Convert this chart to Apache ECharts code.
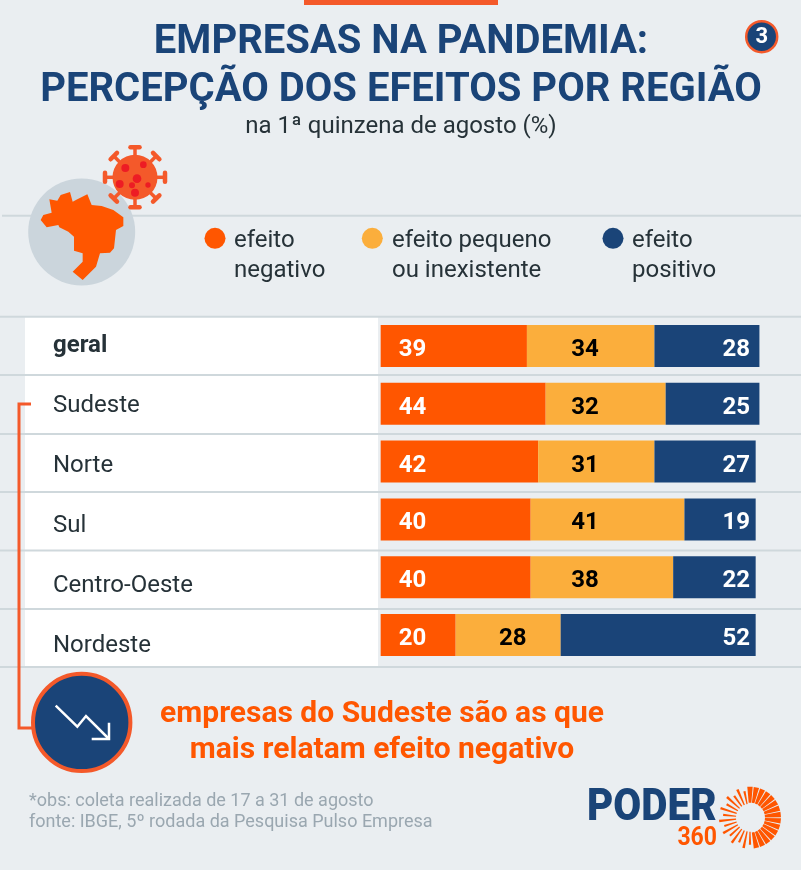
<!DOCTYPE html>
<html><head><meta charset="utf-8">
<style>html,body{margin:0;padding:0;background:#EAEEF1}#c{width:801px;height:870px}</style>
<script src="https://cdn.jsdelivr.net/npm/echarts@6/dist/echarts.min.js"></script>
</head><body><div id="c"></div>
<script>
const regions = ['geral','Sudeste','Norte','Sul','Centro-Oeste','Nordeste'];
const negativo = [39,44,42,40,40,20];
const pequeno = [34,32,31,41,38,28];
const positivo = [28,25,27,19,22,52];
const pequenoCentre = [54.5,54.5,54.5,54.5,54.5,35.2];
const positivoEnd = [98.5,98.5,98.5,98.5,98.5,98.5];

const BLUE='#1A4478', ORANGE='#FF5600', AMBER='#FBAE3C', RED2='#F4592A', DARK='#263238', GREY='#9AA7B0', LINE='#CFD8DC';
const F='Roboto';
const PX=3.75;
const GL=380.67, GW=420, XMAX=112;

function midItem(v,i){
  const start=negativo[i];
  return {value:v,label:{offset:[(pequenoCentre[i]-(start+v/2))*PX,4]}};
}
function endItem(v,i){
  const end=negativo[i]+pequeno[i]+v;
  return {value:v,label:{distance:(end-positivoEnd[i])*PX,offset:[0,4]}};
}
const lbl=(color,extra)=>Object.assign({show:true,color,fontFamily:F,fontWeight:700,fontSize:24},extra);

const g=[];
const rect=(x,y,w,h,fill)=>g.push({type:'rect',shape:{x,y,width:w,height:h},style:{fill},silent:true});
const text=(x,y,t,o)=>g.push({type:'text',x,y,silent:true,scaleX:o.sx||1,style:{text:t,fill:o.c||DARK,font:`${o.w||400} ${o.s}px ${o.f||F}`,textAlign:o.a||'left',textVerticalAlign:'middle'}});
const circ=(cx,cy,r,fill,st,lw)=>g.push({type:'circle',shape:{cx,cy,r},style:{fill,stroke:st,lineWidth:lw||0},silent:true});
const poly=(pts,st,lw)=>g.push({type:'polyline',shape:{points:pts},style:{stroke:st,lineWidth:lw,fill:null},silent:true});
const seg=(x1,y1,x2,y2,st,lw,cap)=>g.push({type:'line',shape:{x1,y1,x2,y2},style:{stroke:st,lineWidth:lw,lineCap:cap||'butt'},silent:true});

rect(304,0,194,5,RED2);
text(401,43,'EMPRESAS NA PANDEMIA:',{s:40,w:700,c:BLUE,a:'center'});
text(401,91,'PERCEPÇÃO DOS EFEITOS POR REGIÃO',{s:40,w:700,c:BLUE,a:'center'});
text(401,127,'na 1ª quinzena de agosto (%)',{s:24,a:'center',c:DARK});
circ(761.7,36.7,15.5,BLUE,RED2,2.5);
text(761.7,37.5,'3',{s:22,w:700,c:'#fff',a:'center'});

seg(2,215.7,801,215.7,LINE,2);
circ(81.7,232,53.5,'#CBD5DC');
g.push({type:'polygon',silent:true,shape:{points:[[148,208],[172,212],[182,195],[210,186],[218,215],[232,208],[262,193],[275,225],[305,228],[340,240],[370,262],[370,288],[348,300],[342,355],[330,368],[300,370],[288,410],[248,450],[218,425],[248,395],[248,370],[222,362],[222,320],[205,305],[178,292],[175,285],[140,292],[122,270],[130,255],[155,248]].map(p=>[p[0]/3,130+p[1]/3])},style:{fill:ORANGE}});
// virus
for(let a=0;a<8;a++){
  const t=a*Math.PI/4,c=Math.cos(t),s=Math.sin(t),cx=135,cy=177.3;
  seg(cx+c*20,cy+s*20,cx+c*30,cy+s*30,RED2,3.5);
  seg(cx+c*30-s*4.5,cy+s*30+c*4.5,cx+c*30+s*4.5,cy+s*30-c*4.5,RED2,4.5,'round');
}
circ(135,177.3,22.5,RED2);
[[376,114,12],[430,104,10],[411,146,13],[359,162,12],[396,166,9],[444,165,8],[405,188,12]].forEach(d=>circ(d[0]/3,130+d[1]/3,d[2]/3,'#ED1C24'));

// legend
[[215,234,'efeito','negativo',ORANGE],[372.3,392,'efeito pequeno','ou inexistente',AMBER],[613,632,'efeito','positivo',BLUE]].forEach(l=>{
  circ(l[0],238.3,10.5,l[4]);
  text(l[1],241,l[2],{s:24});
  text(l[1],271,l[3],{s:24});
});

// rows
rect(25,317,353,350,'#fff');
[316.7,375,434,492,550.5,609,667].forEach(y=>seg(0,y,801,y,LINE,2));

// bracket
poly([[31,404],[19,404],[19,728],[36,728]],RED2,3);
circ(81.7,722.4,48.7,BLUE,RED2,4);
poly([[55.7,705.7],[77.3,726.7],[86,716],[108.5,738.5]],'#fff',2.5);
poly([[91.7,739],[109,739],[109,722.7]],'#fff',2.5);
text(382,714,'empresas do Sudeste são as que',{s:30,w:700,c:ORANGE,a:'center'});
text(382,750,'mais relatam efeito negativo',{s:30,w:700,c:ORANGE,a:'center'});
text(29,801,'*obs: coleta realizada de 17 a 31 de agosto',{s:18,c:GREY});
text(29,822,'fonte: IBGE, 5º rodada da Pesquisa Pulso Empresa',{s:18,c:GREY});
// logo
text(587,809,'PODER',{s:44,w:900,c:BLUE,sx:0.92});
text(717,839,'360',{s:25,w:700,c:ORANGE,a:'right',sx:0.92});
for(let a=0;a<30;a++){
  const t=a*Math.PI/15-Math.PI/2,cx=750,cy=817.7,right=a<15;
  const hw=(right?5:2.4)*Math.PI/180, r1=right?15:14, r2=right?31:(a%2?27:31);
  g.push({type:'polygon',silent:true,shape:{points:[
    [cx+Math.cos(t-hw)*r1,cy+Math.sin(t-hw)*r1],[cx+Math.cos(t-hw)*r2,cy+Math.sin(t-hw)*r2],
    [cx+Math.cos(t+hw)*r2,cy+Math.sin(t+hw)*r2],[cx+Math.cos(t+hw)*r1,cy+Math.sin(t+hw)*r1]]},style:{fill:ORANGE}});
}

const bar=(name,color,data,label)=>({name,type:'bar',stack:'t',barWidth:42,xAxisIndex:0,yAxisIndex:0,itemStyle:{color},data,label,emphasis:{disabled:true}});

const option={
  animation:false,
  backgroundColor:'#EAEEF1',
  textStyle:{fontFamily:F},
  graphic:{elements:g},
  grid:[{left:GL,width:GW,top:317,height:347,containLabel:false},
        {left:GL,width:GW,top:316,height:360,containLabel:false}],
  xAxis:[{type:'value',gridIndex:0,min:0,max:XMAX,show:false},
         {type:'value',gridIndex:1,min:0,max:XMAX,show:false}],
  yAxis:[{type:'category',gridIndex:0,data:regions,inverse:true,axisLine:{show:false},axisTick:{show:false},axisLabel:{show:false}},
         {type:'category',gridIndex:1,data:regions,inverse:true,axisLine:{show:false},axisTick:{show:false},
          axisLabel:{show:true,margin:GL-53,align:'left',color:DARK,fontSize:24,fontFamily:F,
            formatter:v=>v==='geral'?'{b|'+v+'}':v,rich:{b:{fontWeight:700,fontSize:24,color:DARK,fontFamily:F}}}}],
  series:[
    bar('efeito negativo',ORANGE,negativo,lbl('#fff',{position:'insideLeft',distance:18,offset:[0,4]})),
    bar('efeito pequeno ou inexistente',AMBER,pequeno.map(midItem),lbl('#000',{position:'inside'})),
    bar('efeito positivo',BLUE,positivo.map(endItem),lbl('#fff',{position:'insideRight'}))
  ]
};
const chart=echarts.init(document.getElementById('c'),null,{renderer:'canvas'});
chart.setOption(option);
</script></body></html>
